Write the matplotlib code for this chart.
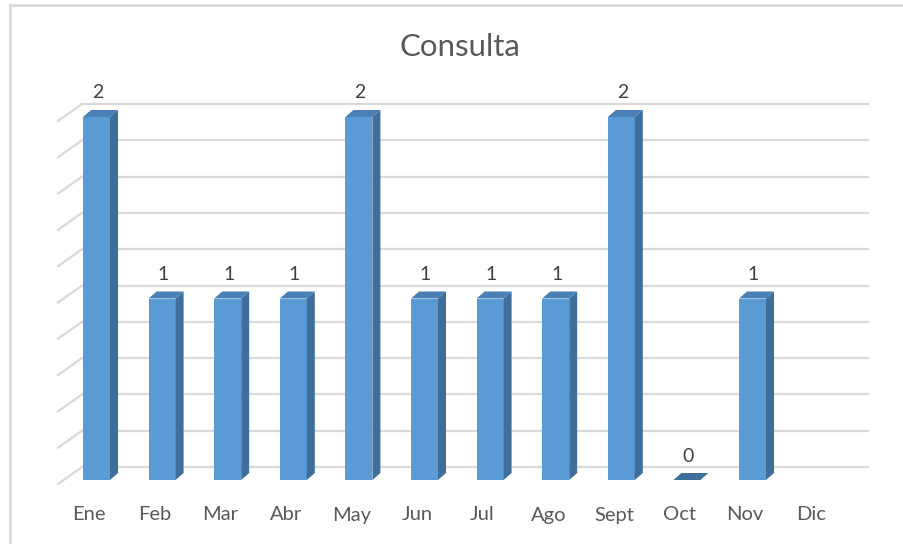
import matplotlib.pyplot as plt
from matplotlib.patches import Polygon
from matplotlib.lines import Line2D

meses = ["Ene", "Feb", "Mar", "Abr", "May", "Jun", "Jul", "Ago", "Sept", "Oct", "Nov", "Dic"]
valores = [2, 1, 1, 1, 2, 1, 1, 1, 2, 0, 1, None]
titulo = "Consulta"

plt.rcParams['font.family'] = ['Lato', 'DejaVu Sans']

W, H = 904, 544
fig = plt.figure(figsize=(W / 100, H / 100), dpi=100)

# axes placed in pixels: x=58..868, y=0 at px 480, y=2 at px 117
px_cat = 65.6
px_val = 181.5
x0_px = 96.5
ax_left, ax_right = 58, 868
ax = fig.add_axes([ax_left / W, (H - 480) / H, (ax_right - ax_left) / W, 363 / H])
ax.set_xlim((ax_left - x0_px) / px_cat, (ax_right - x0_px) / px_cat)
ax.set_ylim(0, 2)
ax.axis("off")

def dx(p):
    return p / px_cat

def dy(p):
    return p / px_val

grid_c = "#d9d9d9"
xl, xr = ax.get_xlim()
x_back = (82 - x0_px) / px_cat
for k in range(11):
    v = k * 0.2
    yb = v + dy(13)
    yf = v - dy(4)
    ax.plot([x_back, xr], [yb, yb], color=grid_c, lw=1.6, clip_on=False, zorder=1)
    ax.plot([xl, x_back], [yf, yb], color=grid_c, lw=1.6, clip_on=False, zorder=1)

frente = "#5b9bd5"
lado = "#3f6e9b"
arriba = "#4a80b6"
w = dx(27)
ddx, ddy = dx(8), dy(7)
for i, v in enumerate(valores):
    if v is None:
        continue
    l, r = i - w / 2, i + w / 2
    ax.bar(i, v, width=w, color=frente, zorder=3, linewidth=0)
    ax.add_patch(Polygon([(r, 0), (r + ddx, ddy), (r + ddx, v + ddy), (r, v)],
                         closed=True, fc=lado, ec="none", zorder=3, clip_on=False))
    ax.add_patch(Polygon([(l, v), (r, v), (r + ddx, v + ddy), (l + ddx, v + ddy)],
                         closed=True, fc=arriba if v > 0 else lado, ec="none", zorder=3, clip_on=False))
    ax.text(i + dx(1), v + dy(24), str(v), ha="center", va="center",
            fontsize=14, color="#404040", zorder=4)

for i, m in enumerate(meses):
    ax.text(i - dx(7.5), -dy(35), m, ha="center", va="center",
            fontsize=14.5, color="#595959", clip_on=False)

fig.text(460 / W, 1 - 47 / H, titulo, ha="center", va="center", fontsize=22.5, color="#595959")

fig.add_artist(Line2D([10 / W, 10 / W], [0, 1 - 5 / H], color=grid_c, lw=2))
fig.add_artist(Line2D([10 / W, 1], [1 - 5 / H, 1 - 5 / H], color=grid_c, lw=2))

fig.savefig("out.png", dpi=100, facecolor="white")
